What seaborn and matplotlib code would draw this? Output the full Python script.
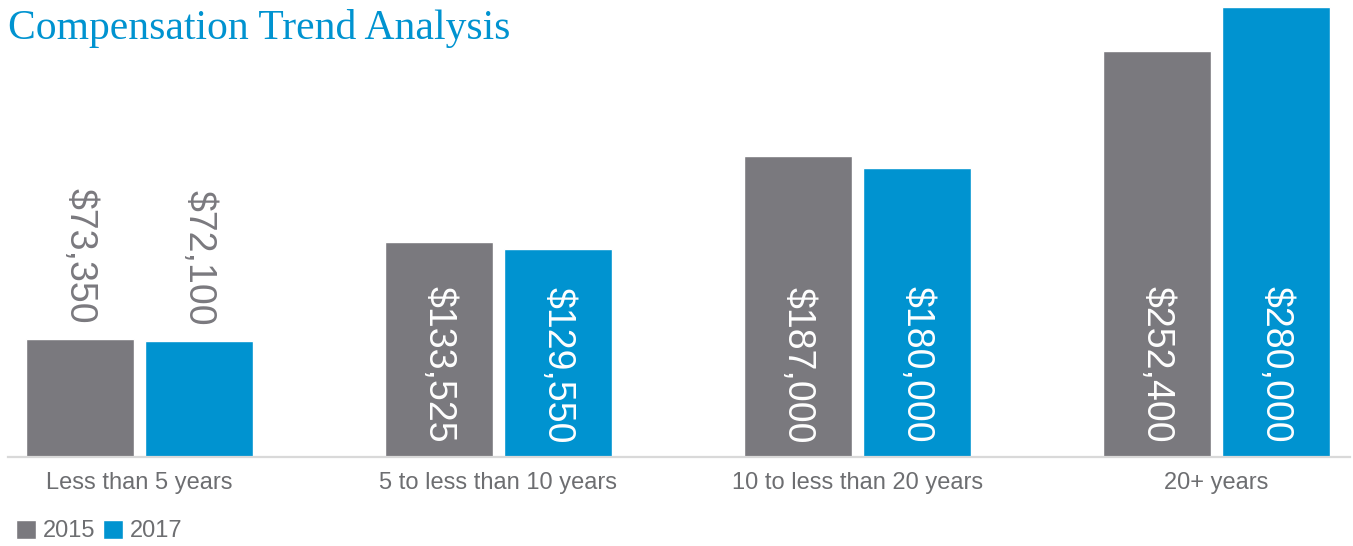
import matplotlib
matplotlib.use("Agg")
import matplotlib.pyplot as plt
import seaborn as sns
import pandas as pd

# Median compensation by years of experience
categories = ["Less than 5 years", "5 to less than 10 years",
              "10 to less than 20 years", "20+ years"]
years = ["2015", "2017"]
comp_2015 = [73350, 133525, 187000, 252400]
comp_2017 = [72100, 129550, 180000, 280000]

GRAY = "#7a797e"
BLUE = "#0093d0"
TEXT_GRAY = "#6d6e71"
AXIS_GRAY = "#d9d9d9"

df = pd.DataFrame({
    "tenure": categories * 2,
    "year": [years[0]] * len(categories) + [years[1]] * len(categories),
    "comp": comp_2015 + comp_2017,
})

sns.set_theme(style="white")
plt.rcParams["font.family"] = ["Liberation Sans", "DejaVu Sans"]

W, H = 1353, 546
fig = plt.figure(figsize=(W / 100, H / 100), dpi=100)
ax = fig.add_axes([8 / W, (H - 457) / H, (1350 - 8) / W, 450 / H])

sns.barplot(data=df, x="tenure", y="comp", hue="year", order=categories,
            hue_order=years, palette=[GRAY, BLUE], saturation=1,
            width=0.663, gap=0.092, ax=ax)

ax.set_ylim(0, 280000)
ax.set_xlim(-0.366, 3.372)
ax.set_xlabel("")
ax.set_ylabel("")
ax.set_yticks([])
for side in ("left", "right", "top"):
    ax.spines[side].set_visible(False)
ax.spines["bottom"].set_color(AXIS_GRAY)
ax.spines["bottom"].set_linewidth(1.6)
ax.tick_params(axis="x", length=0, pad=11, labelsize=17, labelcolor=TEXT_GRAY)

# Value labels: rotated, inside the bar when it is tall enough, above it otherwise
INSIDE_MIN = 100000
for container in ax.containers:
    for bar, value in zip(container, container.datavalues):
        cx = bar.get_x() + bar.get_width() / 2
        label = f"${value:,.0f}"
        if value >= INSIDE_MIN:
            ax.annotate(label, xy=(cx, 0), xytext=(0, 10), textcoords="offset points",
                        rotation=270, ha="center", va="bottom", color="white",
                        fontsize=27)
        else:
            ax.annotate(label, xy=(cx, value), xytext=(0, 11), textcoords="offset points",
                        rotation=270, ha="center", va="bottom", color=GRAY,
                        fontsize=27)

# Legend along the bottom-left edge
handles, labels = ax.get_legend_handles_labels()
ax.legend(handles, labels, loc="center left", bbox_to_anchor=(16 / W, 1 - 531 / H),
          bbox_transform=fig.transFigure, ncol=2, frameon=False, fontsize=17,
          handlelength=0.85, handleheight=0.85, handletextpad=0.3,
          columnspacing=0.3, borderaxespad=0, borderpad=0, labelcolor=TEXT_GRAY)

fig.text(8 / W, 1 - 9 / H, "Compensation Trend Analysis", ha="left", va="top",
         fontsize=30, color=BLUE, family=["Liberation Serif", "DejaVu Serif"])

fig.savefig("out.png", dpi=100)
